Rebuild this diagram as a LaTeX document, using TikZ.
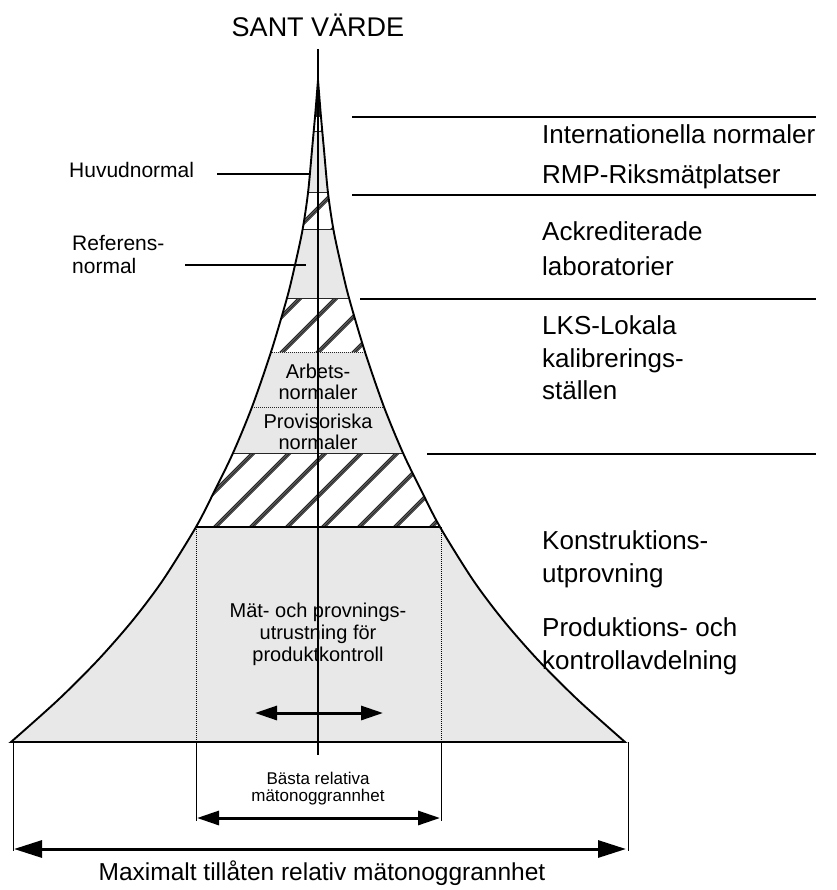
\documentclass[tikz,border=0pt]{standalone}
\usepackage{fontspec}
\setmainfont{Liberation Sans}
\usetikzlibrary{arrows.meta}
\begin{document}
\begin{tikzpicture}[x=1pt,y=-1pt,
  ttl/.style={font=\fontsize{27}{30}\selectfont, anchor=base, inner sep=0pt},
  rlab/.style={font=\fontsize{26}{30}\selectfont, anchor=base west, inner sep=0pt},
  llab/.style={font=\fontsize{21}{24}\selectfont, anchor=base west, inner sep=0pt},
  ilab/.style={font=\fontsize{20}{24}\selectfont, anchor=base, inner sep=0pt},
  blab/.style={font=\fontsize{17}{20}\selectfont, anchor=base, inner sep=0pt},
  mlab/.style={font=\fontsize{24.5}{28}\selectfont, anchor=base, inner sep=0pt},
  rulel/.style={line width=1.5pt},
  divider/.style={line width=1pt, black!85},
  hatchline/.style={line width=0.8pt, black!85},
  graybg/.style={fill=black!9},
  outline/.style={line width=1.9pt, line join=miter},
  extline/.style={line width=1pt},
  dimarrow/.style={line width=3pt, {Triangle[length=28pt,width=17pt]}-{Triangle[length=28pt,width=17pt]}},
  smarrow/.style={line width=3pt, {Triangle[length=22pt,width=14pt]}-{Triangle[length=22pt,width=14pt]}}
]
\useasboundingbox (0,0) rectangle (836,890);

\def\pyrpath{plot[smooth] coordinates {(11,742) (58,700) (98,660) (133,620) (163,580) (196,527) (215,490) (233,453) (252,407) (271,352) (287,298) (295,265) (302.5,230) (308,193) (312,150) (315,117) (316.8,95) (318,80)} -- plot[smooth] coordinates {(318,80) (319.2,95) (321,117) (324,150) (328,193) (333.5,230) (341,265) (349,298) (365,352) (384,407) (403,453) (421,490) (440,527) (473,580) (503,620) (538,660) (578,700) (625,742)} -- cycle}

% pyramid interior
\begin{scope}
  \clip \pyrpath;
  \fill[graybg] (0,117) rectangle (836,742);
  \fill[black!85] (0,60) rectangle (836,117);
  \begin{scope}
    \fill[white] (0,117) rectangle (836,132) (0,193) rectangle (836,230)
                 (0,298) rectangle (836,352) (0,453) rectangle (836,527);
    \clip (0,117) rectangle (836,132) (0,193) rectangle (836,230)
          (0,298) rectangle (836,352) (0,453) rectangle (836,527);
    \foreach \k in {-14,...,24} {
      \foreach \d in {0,1.5,3.0,4.5} {
        \draw[hatchline] ({\k*36+\d},560) -- ++(520,-520);
      }
    }
  \end{scope}
  \foreach \yy in {117,132,193,230,298,453} {
    \draw[divider] (0,\yy) -- (836,\yy);
  }
  \draw[divider, densely dotted] (0,352) -- (836,352);
  \draw[divider, densely dotted] (0,407) -- (836,407);
  \draw[line width=1.5pt] (0,527) -- (836,527);
\end{scope}

% box of production equipment
\draw[extline, densely dotted] (196,527) -- (196,742);
\draw[extline, densely dotted] (441,527) -- (441,742);

% outline
\draw[outline] \pyrpath;
\draw[line width=2.5pt] (11,742) -- (625,742);

% centre line
\coordinate (top) at (318,49);
\coordinate (bot) at (318,755);
\draw[line width=1.1pt] (top) -- (bot);

% title
\node[ttl] (title) at (318,37) {SANT VÄRDE};

% right rules
\draw[rulel] (352,117) -- (816,117);
\draw[rulel] (352,195) -- (816,195);
\draw[rulel] (360,299) -- (816,299);
\draw[rulel] (427,454) -- (816,454);

% right labels
\node[rlab] (int) at (542,144) {Internationella normaler};
\node[rlab] (rmp) at (542,184) {RMP-Riksmätplatser};
\node[rlab] (ack1) at (542,241) {Ackrediterade};
\node[rlab] (ack2) at (542,276) {laboratorier};
\node[rlab] (lks1) at (542,334) {LKS-Lokala};
\node[rlab] (lks2) at (542,367) {kalibrerings-};
\node[rlab] (lks3) at (542,399) {ställen};
\node[rlab] (kon1) at (542,549) {Konstruktions-};
\node[rlab] (kon2) at (542,582) {utprovning};
\node[rlab] (pro1) at (542,636) {Produktions- och};
\node[rlab] (pro2) at (542,669) {kontrollavdelning};

% left labels
\node[llab] (huv) at (69,178) {Huvudnormal};
\node[llab] (ref1) at (72,251) {Referens-};
\node[llab] (ref2) at (72,273) {normal};
\coordinate (huvA) at (217,174);
\coordinate (huvB) at (310,174);
\coordinate (refA) at (185,265);
\coordinate (refB) at (306,265);
\draw[rulel] (huvA) -- (huvB);
\draw[rulel] (refA) -- (refB);

% inner labels
\node[ilab] (arb1) at (318,378) {Arbets-};
\node[ilab] (arb2) at (318,399) {normaler};
\node[ilab] (prov1) at (318,428) {Provisoriska};
\node[ilab] (prov2) at (318,449) {normaler};
\node[ilab] (mat1) at (318,617) {Mät- och provnings-};
\node[ilab] (mat2) at (318,639) {utrustning för};
\node[ilab] (mat3) at (318,661) {produktkontroll};

% small arrow in the box
\coordinate (saL) at (255,713);
\coordinate (saR) at (383,713);
\draw[smarrow] (saL) -- (saR);

% extension lines
\coordinate (e1t) at (196,742); \coordinate (e1b) at (196,821);
\coordinate (e2t) at (441,742); \coordinate (e2b) at (441,821);
\coordinate (e3t) at (13,742);  \coordinate (e3b) at (13,851);
\coordinate (e4t) at (628,742); \coordinate (e4b) at (628,851);
\draw[extline] (e1t) -- (e1b);
\draw[extline] (e2t) -- (e2b);
\draw[extline] (e3t) -- (e3b);
\draw[extline] (e4t) -- (e4b);

% dimension arrows
\coordinate (d1L) at (197,818); \coordinate (d1R) at (440,818);
\coordinate (d2L) at (14,849);  \coordinate (d2R) at (626,849);
\draw[smarrow] (d1L) -- (d1R);
\draw[dimarrow] (d2L) -- (d2R);

\node[blab] (bast1) at (318,784) {Bästa relativa};
\node[blab] (bast2) at (318,801) {mätonoggrannhet};
\node[mlab] (maxl) at (322,880) {Maximalt tillåten relativ mätonoggrannhet};
\end{tikzpicture}
\end{document}
